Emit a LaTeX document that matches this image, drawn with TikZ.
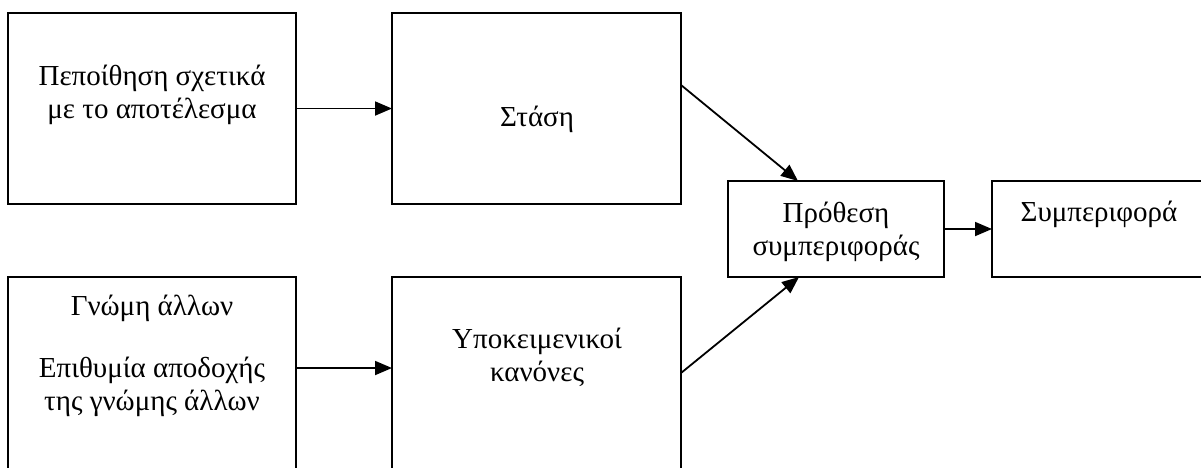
\documentclass[tikz,border=0pt]{standalone}
\usepackage{fontspec}
\setmainfont{Liberation Serif}
\usetikzlibrary{arrows.meta,calc}
\begin{document}
\begin{tikzpicture}[x=1pt,y=-1pt,
  box/.style={draw,line width=1.9pt,rectangle,inner sep=0pt,outer sep=0pt},
  txt/.style={anchor=base,inner sep=0pt,font=\fontsize{29}{33}\selectfont},
  link/.style={line width=1.8pt,-{Triangle[length=17pt,width=14pt]}}]
\clip (0,0) rectangle (1201,467);
% boxes
\node[box,minimum width=288pt,minimum height=191pt] (b1) at (152,108.5) {};
\node[box,minimum width=289pt,minimum height=191pt] (b2) at (536.5,108.5) {};
\node[box,minimum width=216pt,minimum height=96pt] (b3) at (836,229) {};
\node[box,minimum width=216pt,minimum height=96pt] (b4) at (1100,229) {};
\node[box,minimum width=288pt,minimum height=223pt] (b5) at (152,388.5) {};
\node[box,minimum width=289pt,minimum height=223pt] (b6) at (536.5,388.5) {};
% labels
\node[txt] (t1a) at (152,85) {Πεποίθηση σχετικά};
\node[txt] (t1b) at (152,118) {με το αποτέλεσμα};
\node[txt] (t2) at (537,126) {Στάση};
\node[txt] (t3a) at (836,222) {Πρόθεση};
\node[txt] (t3b) at (836,255) {συμπεριφοράς};
\node[txt] (t4) at (1099,221) {Συμπεριφορά};
\node[txt] (t5a) at (152,315) {Γνώμη άλλων};
\node[txt] (t5b) at (152,377) {Επιθυμία αποδοχής};
\node[txt] (t5c) at (152,410) {της γνώμης άλλων};
\node[txt] (t6a) at (537,348) {Υποκειμενικοί};
\node[txt] (t6b) at (537,381) {κανόνες};
% connectors
\draw[link] (b1.east) -- (b2.west);
\draw[link] ($(b2.north east)+(0,72)$) -- ($(b3.north west)+(70,0)$);
\draw[link] ($(b6.north east)+(0,96)$) -- ($(b3.south west)+(71,0)$);
\draw[link] (b3.east) -- (b4.west);
\draw[link] ($(b5.north east)+(0,91)$) -- ($(b6.north west)+(0,91)$);
\end{tikzpicture}
\end{document}
